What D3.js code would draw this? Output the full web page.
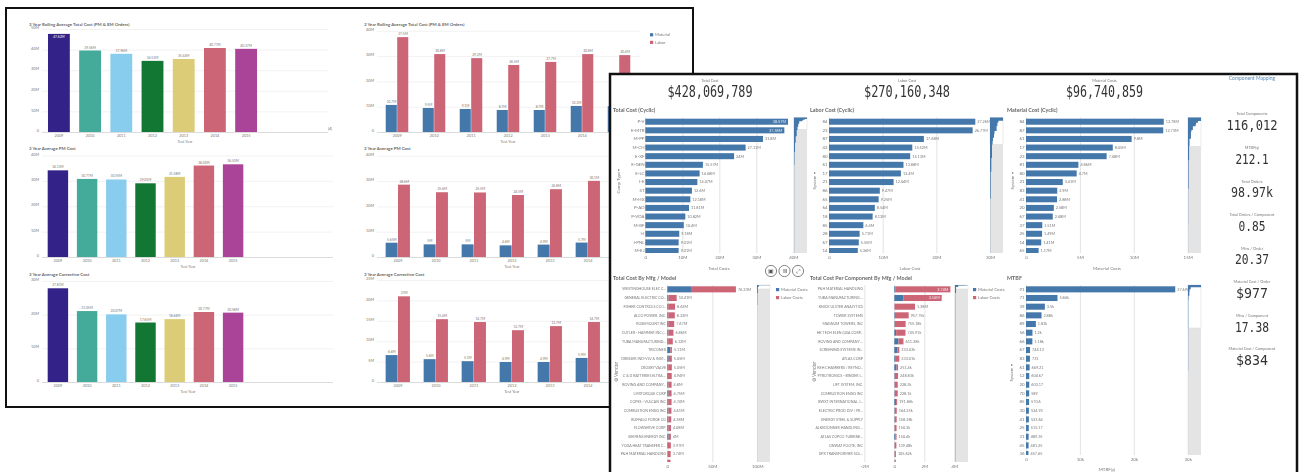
<!DOCTYPE html>
<html>
<head>
<meta charset="utf-8">
<script src="https://cdn.jsdelivr.net/npm/d3@7"></script>
<style>
	html, body { margin: 0; padding: 0; background: #fff; overflow: hidden; }
	svg { display: block; filter: blur(0.5px); }
	text { font-family: Lato, "Open Sans", sans-serif; fill: #777; }
	.kpi { font-family: "DejaVu Sans Mono", monospace; fill: #333; }
	.title { font-weight: 700; fill: #666; }
	.axis .domain { display: none; }
</style>
</head>
<body>
<div id="chart"></div>
<script>

// ---- back sheet, yearly charts
const years = ["2009", "2010", "2011", "2012", "2013", "2014", "2015"];
const yearColors = ["#332288", "#44aa99", "#88ccee", "#117733", "#ddcc77", "#cc6677", "#aa4499"];

const rollingTotal = [47.62, 39.56, 37.96, 34.53, 35.44, 40.77, 40.37];
const pmTotal = [34.15, 30.77, 30.55, 29.05, 31.58, 36.05, 36.53];
const cmTotal = [27.81, 21.05, 20.07, 17.65, 18.66, 20.77, 20.58];

const rollingMaterial = [10.7, 9.5, 9.1, 8.7, 8.7, 10.3, 10.2];
const rollingLabor = [37.5, 30.8, 29.2, 26.5, 27.7, 30.8, 30.4];
const pmMaterial = [5.65, 5.0, 5.0, 4.6, 4.9, 5.7, 5.6];
const pmLabor = [28.6, 25.6, 25.5, 24.5, 26.8, 30.1, 31.0];
const cmMaterial = [6.6, 5.6, 5.1, 4.9, 4.9, 5.9, 5.8];
const cmLabor = [21.0, 15.4, 14.7, 12.7, 13.7, 14.7, 14.8];

// ---- front sheet, big numbers
const topKpiNames = ["Total Cost", "Labor Cost", "Material Costs"];
const topKpiValues = ["$428,069,789", "$270,160,348", "$96,740,859"];
const sideKpiNames = ["Total Components", "MTBF(y)", "Total Orders", "Total Orders / Component", "Mins / Order", "Material Cost / Order", "Mins / Component", "Material Cost / Component"];
const sideKpiValues = ["116,012", "212.1", "98.97k", "0.85", "20.37", "$977", "17.38", "$834"];

// ---- front sheet, bar lists
const compTypes = ["P-V", "E-MTR", "M-PP", "M-CH", "E-XF", "E-GEN", "E-LC", "I-E", "ST", "M-HX", "P-AD", "P-VDA", "M-BF", "I-I", "I-PNL", "M-EJ"];
const compCosts = [38.57, 37.58, 31.8, 27.11, 24, 15.57, 14.68, 14.07, 12.6, 12.18, 11.81, 10.82, 10.4, 9.18, 9.01, 9.01];

const laborSystems = ["84", "23", "87", "42", "80", "61", "17", "21", "86", "65", "64", "18", "85", "28", "67", "14"];
const laborCosts = [27.26, 26.77, 17.68, 15.52, 15.13, 13.88, 13.4, 12.04, 9.47, 9.25, 8.54, 8.13, 6.4, 5.71, 5.55, 5.36];

const materialSystems = ["84", "87", "61", "17", "23", "81", "80", "21", "83", "41", "20", "67", "37", "25", "14", "65"];
const materialCosts = [12.78, 12.73, 9.8, 8.05, 7.48, 4.86, 4.7, 3.41, 2.9, 2.88, 2.58, 2.48, 1.51, 1.49, 1.41, 1.17];

const vendors = ["WESTINGHOUSE ELEC C...", "GENERAL ELECTRIC CO...", "FISHER CONTROLS CO I...", "ALCO POWER, INC.", "ROSEMOUNT INC", "CUTLER - HAMMER INC (...", "TUBA MANUFACTURING...", "TRICONEX", "DRESSER IND-VLV & INST...", "CROSBY VALVE", "C & D BATTERIES ELTRA ...", "BOVING AND COMPANY...", "LIMITORQUE CORP", "COPES - VULCAN INC", "COMBUSTION ENGG INC", "BUFFALO FORGE CO", "FLOWSERVE CORP.", "SIEMENS ENERGY INC.", "YODA HEAT TRANSFER C...", "P&H MATERIAL HANDLING", "TOSHIBA CORP"];
const vendorMaterial = [26.3, 1.3, 1.0, 1.1, 1.2, 1.3, 1.0, 3.4, 1.6, 1.0, 0.8, 1.2, 1.5, 1.0, 1.3, 1.2, 1.2, 1.5, 0.7, 0.4, 0.6];
const vendorLabor = [49.93, 9.11, 7.63, 7.23, 6.47, 5.56, 5.12, 1.71, 3.45, 4.05, 4.14, 3.6, 3.25, 3.74, 3.31, 3.18, 2.88, 2.5, 3.27, 3.34, 3.0];

const perCompVendors = ["P&H MATERIAL HANDLING", "TUBA MANUFACTURING ...", "KNICK ULSTER ANALYTICS", "TOWER SYSTEMS", "MAGNUM TOWERS, INC", "HK TECH ELEN (USA CORP...", "BOVING AND COMPANY ...", "SCREENING SYSTEMS IN...", "ATLAS CORP", "KEH CHAMBERS / REYNO...", "PYROTRONICS - BINDER I...", "LIFT SYSTEM, INC.", "COMBUSTION ENGG INC", "BWXT INTERNATIONAL, I...", "ELECTRIC PROD DIV / PE...", "ENERGY STEEL & SUPPLY", "ALKEDONNER HANDLING ...", "ATLAS COPCO TURBINE...", "ONWAT FOOTE, INC", "GPX TRANSFORMER SOL...", "DELTA UNIT"];
const perCompMaterial = [0.09, 0.62, 0.01, 0.04, 0.03, 0.12, 0.28, 0.2, 0.05, 0.15, 0.03, 0.02, 0.03, 0.12, 0.03, 0.03, 0.02, 0.06, 0.02, 0.02, 0.02];
const perCompLabor = [3.65, 2.54, 1.37, 0.91775, 0.72518, 0.62591, 0.33128, 0.13343, 0.28301, 0.1014, 0.21883, 0.2082, 0.1981, 0.07186, 0.13425, 0.12828, 0.1303, 0.0904, 0.11948, 0.08562, 0.08];

const mtbfSystems = ["91", "71", "39", "86", "89", "56", "66", "67", "83", "61", "12", "20", "70", "85", "30", "41", "25", "31", "45", "36"];
const mtbfValues = [27690, 5840, 3500, 2880, 1830, 1200, 1180, 744.13, 731, 669.21, 604.67, 603.17, 589, 570.6, 534.93, 533.64, 515.17, 489.35, 481.25, 457.65];

const overviewComp = [[0, 38.5], [2, 31.8], [3, 27], [4, 24], [5, 15.5], [8, 12.6], [12, 10.4], [16, 8], [24, 5], [32, 3], [44, 1.5], [60, 0.5], [172, 0]];
const overviewLabor = [[0, 27.2], [2, 17.7], [3, 15.5], [5, 13.8], [8, 9.4], [10, 8.4], [12, 6.2], [14, 5.4], [16, 4.2], [24, 2.8], [32, 1.5], [48, 0.4], [80, 0]];
const overviewMaterial = [[0, 12.8], [2, 9.8], [3, 8], [4, 7.5], [5, 4.8], [7, 3.4], [8, 2.9], [12, 1.5], [16, 1.1], [24, 0.6], [40, 0.2], [60, 0.1], [76, 0]];
const overviewVendor = [[0, 76], [1, 10], [10, 5], [40, 2], [100, 0.6], [890, 0]];
const overviewPerComp = [[0, 3.7], [1, 3.1], [3, 0.9], [10, 0.3], [40, 0.08], [890, 0]];
const overviewMtbf = [[0, 27.7], [1, 5.8], [2, 3.5], [3, 2.9], [5, 1.2], [7, 0.7], [20, 0.45], [40, 0.1], [80, 0]];

const blue = "#4477aa", rose = "#cc6677";
const fmtM = d3.format(".4~s");
const millions = v => fmtM(v * 1e6);

const svg = d3.select("#chart").append("svg")
	.attr("width", 1302)
	.attr("height", 472);

svg.append("rect").attr("x", 6).attr("y", 8).attr("width", 687).attr("height", 399)
	.attr("fill", "#fff").attr("stroke", "#111").attr("stroke-width", 2);


function yAxisGrid(g, y, ticks, x0, x1) {
	g.append("g")
		.attr("class", "axis")
		.attr("transform", `translate(${x0},0)`)
		.call(d3.axisLeft(y).tickValues(ticks).tickSize(-(x1 - x0)).tickPadding(3).tickFormat(d => d === 0 ? "0" : d + "M"))
		.call(a => a.selectAll("line").attr("stroke", d => d === 0 ? "#ccc" : "#ececec").attr("stroke-width", 0.7))
		.call(a => a.selectAll("text").attr("font-size", 3.8).attr("dy", "-0.1em"));
}

function yearAxis(g, x, base, labelX) {
	g.append("g")
		.attr("class", "axis")
		.attr("transform", `translate(0,${base})`)
		.call(d3.axisBottom(x).tickSize(0).tickPadding(2))
		.call(a => a.selectAll("text").attr("font-size", 3.8));
	g.append("text").attr("x", labelX).attr("y", base + 11).attr("text-anchor", "middle").attr("font-size", 3.8).text("Test Year");
}

function yearBars(cfg) {
	let g = svg.append("g");
	let y = d3.scaleLinear().domain([0, cfg.top]).range([cfg.base, cfg.topY]);
	let x = d3.scaleBand().domain(years).range(cfg.range).paddingInner(0.3).paddingOuter(0.15);

	g.append("text").attr("x", 29).attr("y", cfg.titleY).attr("font-size", 4.4).attr("class", "title").text(cfg.title);
	yAxisGrid(g, y, cfg.ticks, 42, cfg.right);

	g.selectAll(".bar").data(cfg.values).enter().append("rect")
		.attr("x", (d, i) => x(years[i]))
		.attr("width", x.bandwidth())
		.attr("y", d => y(d))
		.attr("height", d => cfg.base - y(d))
		.attr("fill", (d, i) => yearColors[i]);

	g.selectAll(".val").data(cfg.values).enter().append("text")
		.attr("x", (d, i) => x(years[i]) + x.bandwidth() / 2)
		.attr("y", (d, i) => y(d) + (cfg.inside === i ? 4 : -2))
		.attr("text-anchor", "middle")
		.attr("font-size", 3.3)
		.style("fill", (d, i) => cfg.inside === i ? "#fff" : "#777")
		.text(d => millions(d));

	yearAxis(g, x, cfg.base, cfg.labelX);
}

function laborBars(cfg) {
	let g = svg.append("g");
	let y = d3.scaleLinear().domain([0, cfg.top]).range([cfg.base, cfg.topY]);
	let x = d3.scaleBand().domain(years).range(cfg.range).paddingInner(cfg.inner).paddingOuter(cfg.inner / 2);
	let x2 = d3.scaleBand().domain(["Material", "Labor"]).range([0, x.bandwidth()]);

	g.append("text").attr("x", 364).attr("y", cfg.titleY).attr("font-size", 4.4).attr("class", "title").text(cfg.title);
	yAxisGrid(g, y, cfg.ticks, 377, 640);

	[["Material", cfg.material, blue], ["Labor", cfg.labor, rose]].forEach(s => {
		g.selectAll(".bar" + s[0]).data(s[1]).enter().append("rect")
			.attr("x", (d, i) => x(years[i]) + x2(s[0]))
			.attr("width", x2.bandwidth() - 0.4)
			.attr("y", d => y(d))
			.attr("height", d => cfg.base - y(d))
			.attr("fill", s[2]);
		g.selectAll(".val" + s[0]).data(s[1]).enter().append("text")
			.attr("x", (d, i) => x(years[i]) + x2(s[0]) + x2.bandwidth() / 2)
			.attr("y", d => y(d) - 2)
			.attr("text-anchor", "middle")
			.attr("font-size", 3.3)
			.text(d => millions(d));
	});

	yearAxis(g, x, cfg.base, cfg.labelX);
}

yearBars({ title: "3 Year Rolling Average Total Cost (PM & EM Orders)", titleY: 25.5, values: rollingTotal, top: 50, ticks: [0, 10, 20, 30, 40, 50], base: 132, topY: 29, range: [43.3, 261.7], right: 328, labelX: 185, inside: 0 });
yearBars({ title: "3 Year Average PM Cost", titleY: 150, values: pmTotal, top: 40, ticks: [0, 10, 20, 30, 40], base: 257, topY: 155.5, range: [43.3, 247.7], right: 333, labelX: 188 });
yearBars({ title: "3 Year Average Corrective Cost", titleY: 275.5, values: cmTotal, top: 30, ticks: [0, 10, 20, 30], base: 382, topY: 280.9, range: [43.3, 247.7], right: 333, labelX: 188 });

laborBars({ title: "3 Year Rolling Average Total Cost (PM & EM Orders)", titleY: 25.5, material: rollingMaterial, labor: rollingLabor, top: 40, ticks: [0, 10, 20, 30, 40], base: 132, topY: 30.8, range: [378.7, 637.7], inner: 0.38, labelX: 508 });
laborBars({ title: "3 Year Average PM Cost", titleY: 150, material: pmMaterial, labor: pmLabor, top: 40, ticks: [0, 10, 20, 30, 40], base: 257, topY: 155.8, range: [379, 645], inner: 0.35, labelX: 512 });
laborBars({ title: "3 Year Average Corrective Cost", titleY: 275.5, material: cmMaterial, labor: cmLabor, top: 25, ticks: [0, 5, 10, 15, 20, 25], base: 382, topY: 280, range: [379, 645], inner: 0.35, labelX: 512 });

// stray label right of the first chart
svg.append("text").attr("x", 328).attr("y", 130).attr("font-size", 3.8).text("(4)");

function legend(x, items, y0, step) {
	let g = svg.append("g");
	items.forEach((t, i) => {
		g.append("rect").attr("x", x).attr("y", y0 + i * step - 1.5).attr("width", 3.2).attr("height", 3.2).attr("fill", i === 0 ? blue : rose);
		g.append("text").attr("x", x + 5).attr("y", y0 + i * step + 1.6).attr("font-size", 4.2).text(t);
	});
}

legend(650, ["Material", "Labor"], 34.7, 7.6);


// ---- front sheet
svg.append("rect").attr("x", 610).attr("y", 74).attr("width", 687).attr("height", 420)
	.attr("fill", "#fff").attr("stroke", "#111").attr("stroke-width", 2.5);

function kpi(cx, labelY, valueY, name, value, w, size) {
	svg.append("text").attr("x", cx).attr("y", labelY).attr("text-anchor", "middle").attr("font-size", 3.9).text(name);
	svg.append("text").attr("class", "kpi")
		.attr("x", cx - w / 2).attr("y", valueY)
		.attr("font-size", size)
		.attr("textLength", w)
		.attr("lengthAdjust", "spacingAndGlyphs")
		.text(value);
}

[[710, 85], [907, 86], [1104.5, 77]].forEach((p, i) => kpi(p[0], 82, 96.7, topKpiNames[i], topKpiValues[i], p[1], 15));

[[115, 130, 51], [149, 164, 33], [183, 197, 42], [216, 231, 27], [250, 264, 34], [283, 298, 32], [317, 332, 34], [350, 365, 32]]
	.forEach((p, i) => kpi(1252, p[0], p[1], sideKpiNames[i], sideKpiValues[i], p[2], 14));

svg.append("text").attr("x", 1252).attr("y", 80).attr("text-anchor", "middle").attr("font-size", 5)
	.style("fill", "#5b8ab5").text("Component Mapping");


function overview(cfg, series) {
	let g = svg.append("g");
	g.append("rect").attr("x", cfg.miniX).attr("y", cfg.y0).attr("width", 13).attr("height", cfg.bottom - cfg.y0).attr("fill", "#e4e4e4");
	g.append("rect").attr("x", cfg.miniX).attr("y", cfg.y0).attr("width", 13).attr("height", cfg.viewH).attr("fill", "#fff").attr("stroke", "#ddd").attr("stroke-width", 0.6);

	let my = d3.scaleLinear().domain([0, series[series.length - 1][0]]).range([cfg.y0, cfg.bottom]);
	let mx = d3.scaleLinear().domain([0, series[0][1]]).range([cfg.miniX, cfg.miniX + 13]);
	let area = d3.area().curve(d3.curveStepBefore)
		.y(d => my(d[0]))
		.x0(cfg.miniX)
		.x1(d => mx(d[1]));
	g.append("path").attr("d", area(series)).attr("fill", blue);
}

function listPanel(cfg) {
	let clipId = "clip" + cfg.id;
	let g = svg.append("g");
	svg.append("defs").append("clipPath").attr("id", clipId).append("rect")
		.attr("x", 610).attr("y", cfg.y0).attr("width", 690).attr("height", cfg.bottom - cfg.y0);

	g.append("text").attr("x", cfg.titleX).attr("y", cfg.titleY).attr("font-size", 5.4).attr("class", "title").text(cfg.title);

	let y = d3.scaleBand().domain(cfg.cats).range([cfg.y0, cfg.y0 + cfg.cats.length * cfg.step]).paddingInner(0.3).paddingOuter(0.15);
	let x = d3.scaleLinear().domain(cfg.domain).range(cfg.xRange);

	// grid + value axis
	g.append("g")
		.attr("class", "axis")
		.attr("transform", `translate(0,${cfg.bottom})`)
		.call(d3.axisBottom(x).tickValues(cfg.ticks).tickSize(-(cfg.bottom - cfg.y0)).tickPadding(cfg.tickPad).tickFormat(cfg.tickFormat))
		.call(a => a.selectAll("line").attr("stroke", "#dcdcdc").attr("stroke-width", 0.8))
		.call(a => a.selectAll("text").attr("font-size", 4.4));

	// category axis
	let shown = cfg.cats.slice(0, cfg.shown);
	g.append("g")
		.attr("class", "axis")
		.attr("transform", `translate(${cfg.catX},0)`)
		.call(d3.axisLeft(y).tickValues(shown).tickSize(0).tickPadding(0))
		.call(a => a.selectAll("text").attr("font-size", cfg.catSize));

	g.append("text")
		.attr("transform", `translate(${cfg.yTitleX},${cfg.yTitleY}) rotate(-90)`)
		.attr("text-anchor", "middle").attr("font-size", cfg.yTitleSize || 4.4).text(cfg.yTitle);

	if (cfg.xTitle) {
		g.append("text").attr("x", cfg.xTitleX).attr("y", cfg.xTitleY).attr("text-anchor", "middle").attr("font-size", 4.4).text(cfg.xTitle);
	}

	let plot = g.append("g").attr("clip-path", `url(#${clipId})`);

	if (cfg.values) {
		plot.selectAll(".bar").data(cfg.values).enter().append("rect")
			.attr("x", x(0))
			.attr("y", (d, i) => y(cfg.cats[i]))
			.attr("width", d => x(d) - x(0))
			.attr("height", y.bandwidth())
			.attr("fill", blue);
	} else {
		plot.selectAll(".mat").data(cfg.material).enter().append("rect")
			.attr("x", x(0))
			.attr("y", (d, i) => y(cfg.cats[i]))
			.attr("width", d => x(d) - x(0))
			.attr("height", y.bandwidth())
			.attr("fill", blue);
		plot.selectAll(".lab").data(cfg.labor).enter().append("rect")
			.attr("x", (d, i) => x(cfg.material[i]))
			.attr("y", (d, i) => y(cfg.cats[i]))
			.attr("width", (d, i) => x(cfg.material[i] + d) - x(cfg.material[i]))
			.attr("height", y.bandwidth())
			.attr("fill", rose);
	}

	let totals = cfg.values || cfg.labor.map((d, i) => d + cfg.material[i]);
	g.selectAll(".val").data(totals.slice(0, cfg.shown)).enter().append("text")
		.attr("x", (d, i) => i < cfg.insideCount ? x(d) - 2 : x(d) + 2)
		.attr("y", (d, i) => y(cfg.cats[i]) + y.bandwidth() / 2 + 1.4)
		.attr("text-anchor", (d, i) => i < cfg.insideCount ? "end" : "start")
		.attr("font-size", 3.8)
		.style("fill", (d, i) => i < cfg.insideCount ? "#eee" : "#777")
		.text(cfg.valueFormat);

	overview(cfg, cfg.overview);
}

listPanel({ id: "A", title: "Total Cost (Cyclic)", titleX: 613, titleY: 111.5, cats: compTypes, values: compCosts, shown: 16, y0: 117.4, step: 8.62, bottom: 253,
	domain: [0, 40], xRange: [645.3, 793.3], ticks: [0, 10, 20, 30, 40], tickPad: 3, tickFormat: d => d === 0 ? "0" : d + "M", catX: 644.5, catSize: 4.4,
	yTitle: "Comp Type  ▾", yTitleX: 620, yTitleY: 181, xTitle: "Total Costs", xTitleX: 719, xTitleY: 270, valueFormat: millions, insideCount: 2,
	miniX: 794, viewH: 12, overview: overviewComp });

listPanel({ id: "B", title: "Labor Cost (Cyclic)", titleX: 810, titleY: 111.5, cats: laborSystems, values: laborCosts, shown: 16, y0: 117.4, step: 8.62, bottom: 253,
	domain: [0, 30], xRange: [829, 990], ticks: [0, 10, 20, 30], tickPad: 3, tickFormat: d => d === 0 ? "0" : d + "M", catX: 827.5, catSize: 4.4,
	yTitle: "System  ▾", yTitleX: 816, yTitleY: 181, xTitle: "Labor Cost", xTitleX: 910, xTitleY: 270, valueFormat: millions, insideCount: 0,
	miniX: 990, viewH: 27, overview: overviewLabor });

listPanel({ id: "C", title: "Material Cost (Cyclic)", titleX: 1007, titleY: 111.5, cats: materialSystems, values: materialCosts, shown: 16, y0: 117.4, step: 8.62, bottom: 253,
	domain: [0, 15], xRange: [1026, 1187.7], ticks: [0, 5, 10, 15], tickPad: 3, tickFormat: d => d === 0 ? "0" : d + "M", catX: 1024.5, catSize: 4.4,
	yTitle: "System  ▾", yTitleX: 1014, yTitleY: 181, xTitle: "Material Costs", xTitleX: 1107, xTitleY: 270, valueFormat: millions, insideCount: 0,
	miniX: 1188, viewH: 29, overview: overviewMaterial });

listPanel({ id: "D", title: "Total Cost By Mfg / Model", titleX: 613, titleY: 279.5, cats: vendors, material: vendorMaterial, labor: vendorLabor, shown: 20, y0: 285, step: 8.67, bottom: 462,
	domain: [0, 100], xRange: [667.3, 757.3], ticks: [0, 50, 100], tickPad: 3, tickFormat: d => d === 0 ? "0" : d + "M", catX: 666, catSize: 3.6,
	yTitle: "⚙ Vendor", yTitleSize: 4.8, yTitleX: 618, yTitleY: 372, valueFormat: millions, insideCount: 0,
	miniX: 757, viewH: 4, overview: overviewVendor });

listPanel({ id: "E", title: "Total Cost Per Component By Mfg / Model", titleX: 810, titleY: 279.5, cats: perCompVendors, material: perCompMaterial, labor: perCompLabor, shown: 20, y0: 285, step: 8.67, bottom: 462,
	domain: [0, 4], xRange: [894.3, 954.3], ticks: [-2, 0, 2, 4], tickPad: 3, tickFormat: d => d === 0 ? "0" : d + "M", catX: 863, catSize: 3.6,
	yTitle: "⚙ Vendor", yTitleSize: 4.8, yTitleX: 816, yTitleY: 372, valueFormat: v => d3.format(".5~s")(v * 1e6), insideCount: 2,
	miniX: 955, viewH: 4, overview: overviewPerComp });

listPanel({ id: "F", title: "MTBF", titleX: 1007, titleY: 279.5, cats: mtbfSystems, values: mtbfValues, shown: 20, y0: 285, step: 8.67, bottom: 455,
	domain: [0, 30000], xRange: [1026, 1187.7], ticks: [0, 10000, 20000, 30000], tickPad: 3, tickFormat: d => d === 0 ? "0" : d / 1000 + "k", catX: 1024.5, catSize: 4.4,
	yTitle: "System  ▾", yTitleX: 1013, yTitleY: 373, xTitle: "MTBF(y)", xTitleX: 1107, xTitleY: 471, valueFormat: d3.format(".5~s"), insideCount: 0,
	miniX: 1188, viewH: 43, overview: overviewMtbf });

legend(776, ["Material Costs", "Labor Costs"], 289.5, 8);
legend(973, ["Material Costs", "Labor Costs"], 289.5, 8);

// play controls between the panels
const controls = ["▣", "Ⅲ", "⤢"];
controls.forEach((c, i) => {
	svg.append("circle").attr("cx", 771 + i * 13.5).attr("cy", 271).attr("r", 5.6).attr("fill", "#fff").attr("stroke", "#666").attr("stroke-width", 0.8);
	svg.append("text").attr("x", 771 + i * 13.5).attr("y", 273).attr("text-anchor", "middle").attr("font-size", 5.5).style("fill", "#555").text(c);
});

</script>
</body>
</html>
